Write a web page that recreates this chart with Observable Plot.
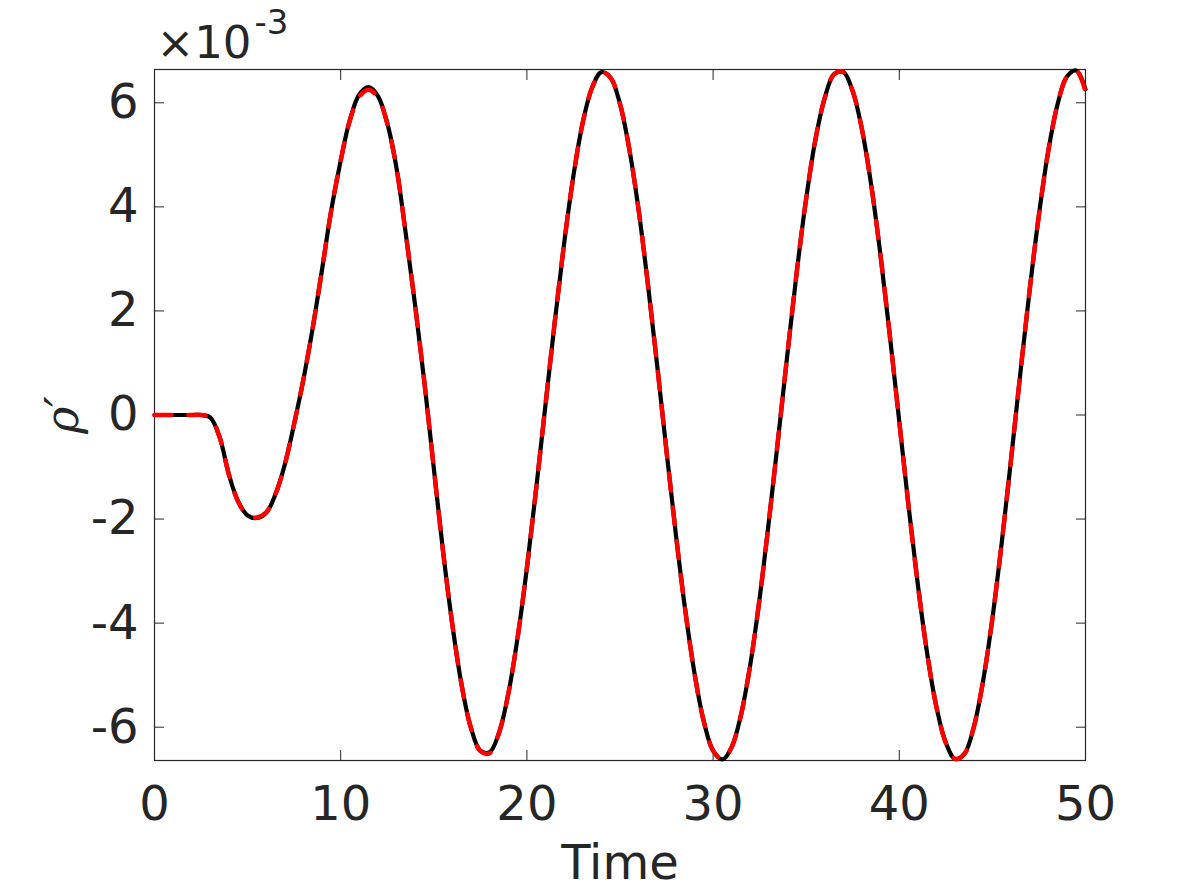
<!DOCTYPE html>
<html>
<head>
<meta charset="utf-8">
<script src="https://cdn.jsdelivr.net/npm/d3@7"></script>
<script src="https://cdn.jsdelivr.net/npm/@observablehq/plot@0.6"></script>
<style>
  html, body { margin: 0; padding: 0; background: #ffffff; }
  #chart { width: 1196px; height: 896px; }
</style>
</head>
<body>
<div id="chart"></div>
<script>
// Time samples
const time = [
  0, 0.5, 1, 1.5, 2, 2.5, 3, 3.5, 4, 4.5,
  5, 5.5, 6, 6.5, 7, 7.5, 8, 8.5, 9, 9.5,
  10, 10.5, 11, 11.5, 12, 12.5, 13, 13.5, 14, 14.5,
  15, 15.5, 16, 16.5, 17, 17.5, 18, 18.5, 19, 19.5,
  20, 20.5, 21, 21.5, 22, 22.5, 23, 23.5, 24, 24.5,
  25, 25.5, 26, 26.5, 27, 27.5, 28, 28.5, 29, 29.5,
  30, 30.5, 31, 31.5, 32, 32.5, 33, 33.5, 34, 34.5,
  35, 35.5, 36, 36.5, 37, 37.5, 38, 38.5, 39, 39.5,
  40, 40.5, 41, 41.5, 42, 42.5, 43, 43.5, 44, 44.5,
  45, 45.5, 46, 46.5, 47, 47.5, 48, 48.5, 49, 49.5,
  50
];
// rho' (in units of 1e-3), black solid curve
const rhoSolid = [
  0, 0, 0, 0, 0, 0, -0.05, -0.43, -1.15, -1.67,
  -1.93, -1.98, -1.88, -1.52, -0.95, -0.17, 0.69, 1.68, 2.80, 3.95,
  4.89, 5.68, 6.16, 6.30, 6.13, 5.61, 4.74, 3.47, 2.10, 0.61,
  -1.02, -2.63, -4.04, -5.20, -6.02, -6.45, -6.48, -6.11, -5.36, -4.28,
  -2.94, -1.41, 0.20, 1.80, 3.30, 4.60, 5.62, 6.29, 6.59, 6.48,
  5.98, 5.11, 3.94, 2.51, 0.94, -0.70, -2.29, -3.74, -4.96, -5.89,
  -6.45, -6.62, -6.38, -5.76, -4.79, -3.52, -2.03, -0.43, 1.20, 2.77,
  4.16, 5.30, 6.10, 6.55, 6.59, 6.22, 5.48, 4.40, 3.04, 1.50,
  -0.13, -1.76, -3.27, -4.59, -5.62, -6.30, -6.61, -6.51, -6.00, -5.11,
  -3.91, -2.46, -0.86, 0.80, 2.40, 3.85, 5.07, 5.97, 6.50, 6.62,
  6.26
];
// rho' (in units of 1e-3), red dashed curve
const rhoDashed = [
  0, 0, 0, 0, 0, 0, -0.05, -0.43, -1.15, -1.67,
  -1.93, -1.97, -1.87, -1.52, -0.95, -0.17, 0.69, 1.68, 2.80, 3.95,
  4.89, 5.67, 6.12, 6.25, 6.10, 5.60, 4.74, 3.47, 2.10, 0.61,
  -1.02, -2.63, -4.04, -5.20, -6.02, -6.46, -6.50, -6.11, -5.36, -4.28,
  -2.94, -1.41, 0.20, 1.80, 3.30, 4.60, 5.62, 6.29, 6.59, 6.48,
  5.98, 5.11, 3.94, 2.51, 0.94, -0.70, -2.29, -3.74, -4.96, -5.89,
  -6.45, -6.62, -6.38, -5.76, -4.79, -3.52, -2.03, -0.43, 1.20, 2.77,
  4.16, 5.30, 6.10, 6.55, 6.59, 6.22, 5.48, 4.40, 3.04, 1.50,
  -0.13, -1.76, -3.27, -4.59, -5.62, -6.30, -6.61, -6.51, -6.00, -5.11,
  -3.91, -2.46, -0.86, 0.80, 2.40, 3.85, 5.07, 5.97, 6.50, 6.62,
  6.22
];
const xTicks = [0, 10, 20, 30, 40, 50];
const yTicks = [-6, -4, -2, 0, 2, 4, 6];
const xLabel = ["Time"];
const yLabel = ["ρ′"];
const scaleBase = ["×10"];
const scaleExp = ["-3"];

const solidData = time.map((t, i) => ({t, v: rhoSolid[i]}));
const dashedData = time.map((t, i) => ({t, v: rhoDashed[i]}));

const ink = "#262626";

const chart = Plot.plot({
  width: 1196,
  height: 896,
  marginLeft: 154,
  marginRight: 111,
  marginTop: 69,
  marginBottom: 136,
  style: {fontFamily: "DejaVu Sans", fontSize: "48px", color: ink, background: "#ffffff"},
  x: {domain: [0, 50]},
  y: {domain: [-6.64, 6.64]},
  marks: [
    Plot.axisX(xTicks, {anchor: "bottom", tickSize: -10, tickPadding: 35, tickFormat: d => String(d), fontSize: 48, label: null, stroke: ink, fill: ink}),
    Plot.axisX(xTicks, {anchor: "top", tickSize: -10, tickFormat: () => "", label: null, stroke: ink}),
    Plot.axisY(yTicks, {anchor: "left", tickSize: -10, tickPadding: 26, tickFormat: d => String(d), fontSize: 48, label: null, stroke: ink, fill: ink}),
    Plot.axisY(yTicks, {anchor: "right", tickSize: -10, tickFormat: () => "", label: null, stroke: ink}),
    Plot.frame({stroke: ink, strokeWidth: 1.2}),
    Plot.line(solidData, {x: "t", y: "v", stroke: "#000000", strokeWidth: 4.2, curve: "catmull-rom"}),
    Plot.line(dashedData, {x: "t", y: "v", stroke: "#ff0000", strokeWidth: 4.5, strokeDasharray: "17,17", curve: "catmull-rom"}),
    Plot.text(xLabel, {text: d => d, frameAnchor: "bottom", dy: 118, lineAnchor: "bottom", fontSize: 48, fill: ink}),
    Plot.text(yLabel, {text: d => d, frameAnchor: "left", dx: -91, rotate: -90, textAnchor: "middle", lineAnchor: "middle", fontSize: 46, fontFamily: "DejaVu Serif", fontStyle: "italic", fill: ink}),
    Plot.text(scaleBase, {text: d => d, frameAnchor: "top-left", dx: 2, dy: -12, textAnchor: "start", lineAnchor: "bottom", fontSize: 45, fill: ink}),
    Plot.text(scaleExp, {text: d => d, frameAnchor: "top-left", dx: 100, dy: -36, textAnchor: "start", lineAnchor: "bottom", fontSize: 34, fill: ink})
  ]
});
document.getElementById("chart").appendChild(chart);
</script>
</body>
</html>
